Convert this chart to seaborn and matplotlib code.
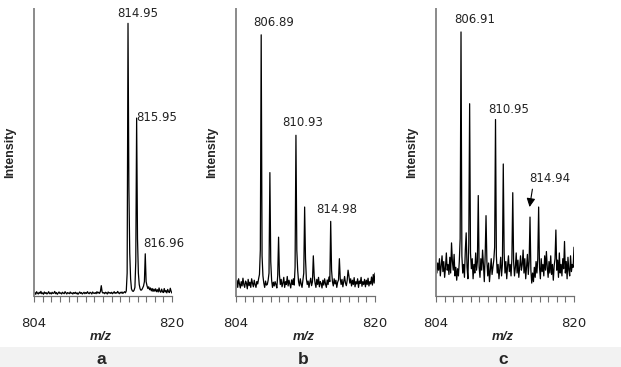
import numpy as np
import pandas as pd
import matplotlib
matplotlib.use("Agg")
import matplotlib.pyplot as plt
from matplotlib.patches import Rectangle
import seaborn as sns

# m/z sampling axis (804 to 820 in 0.1 steps)
mz = np.round(np.arange(804.0, 820.05, 0.1), 1)

# intensities (arbitrary units, 0-100)
int_a = [0.8, 1.2, 0.6, 1.5, 1.0, 0.7, 1.3, 0.9, 1.6, 0.8,
         1.1, 0.6, 1.4, 0.9, 1.2, 0.7, 1.0, 1.5, 0.8, 1.1,
         0.7, 1.3, 0.9, 1.0, 1.6, 0.8, 1.2, 0.6, 1.0, 1.4,
         0.9, 1.1, 0.7, 1.3, 1.0, 0.8, 1.5, 1.1, 0.7, 1.2,
         1.0, 0.8, 1.4, 0.9, 1.1, 0.7, 1.2, 0.9, 1.3, 0.8,
         1.1, 0.6, 1.0, 1.4, 0.9, 1.2, 0.7, 1.0, 1.3, 0.8,
         1.2, 0.9, 1.5, 1.0, 0.8, 1.3, 1.1, 0.7, 1.4, 1.0,
         0.9, 1.2, 0.8, 1.5, 1.0, 1.3, 0.9, 1.6, 3.6, 1.4,
         1.0, 1.2, 0.8, 1.3, 1.1, 0.7, 1.4, 1.0, 1.2, 0.9,
         1.3, 0.8, 1.1, 1.5, 0.9, 1.2, 1.0, 1.6, 1.1, 0.8,
         1.3, 1.0, 1.4, 0.9, 1.2, 1.5, 1.1, 1.8, 8.0, 95.0,
         38.0, 15.0, 6.0, 2.5, 1.8, 1.6, 2.0, 3.0, 12.0, 62.0,
         20.0, 8.0, 4.0, 2.5, 2.0, 2.2, 2.8, 3.5, 5.0, 14.7,
         5.0, 3.6, 2.6, 3.2, 2.2, 2.8, 1.8, 2.6, 1.6, 2.4,
         1.7, 2.5, 1.5, 2.2, 1.4, 2.8, 1.6, 1.3, 2.4, 1.5,
         1.2, 2.6, 1.4, 1.9, 1.1, 2.3, 1.5, 1.2, 2.7, 1.6,
         1.0]

int_b = [4.0, 5.5, 3.0, 6.0, 4.2, 2.8, 5.0, 3.5, 6.2, 4.0,
         3.0, 5.2, 4.5, 2.5, 5.8, 3.6, 4.8, 3.0, 6.0, 4.4,
         3.2, 5.5, 4.0, 3.0, 5.0, 4.2, 6.0, 7.5, 16.0, 91.0,
         14.0, 7.0, 4.5, 3.0, 5.2, 3.8, 4.0, 5.5, 8.0, 43.0,
         12.0, 5.5, 3.0, 4.8, 3.5, 5.0, 4.0, 2.8, 7.0, 20.5,
         7.5, 4.0, 5.8, 3.2, 4.5, 6.5, 3.0, 5.0, 4.0, 6.8,
         3.5, 5.5, 4.2, 2.8, 5.6, 4.0, 6.0, 3.8, 10.0, 56.0,
         16.0, 9.0, 5.0, 3.5, 6.0, 4.2, 3.0, 5.5, 8.0, 31.0,
         13.0, 6.0, 4.0, 5.2, 3.0, 4.8, 6.2, 3.6, 5.0, 14.0,
         7.0, 4.5, 3.0, 5.8, 4.0, 6.5, 3.2, 5.0, 4.4, 2.8,
         5.5, 3.8, 6.0, 4.2, 3.0, 5.6, 4.0, 6.6, 5.0, 26.0,
         9.0, 5.0, 3.5, 6.0, 4.2, 5.5, 3.0, 4.8, 5.6, 13.0,
         6.0, 4.0, 5.8, 3.2, 5.0, 6.8, 4.5, 3.6, 5.5, 9.0,
         7.0, 4.5, 6.0, 3.5, 5.5, 4.0, 6.4, 3.2, 5.0, 4.2,
         6.0, 3.0, 5.2, 4.4, 6.5, 3.4, 5.0, 4.0, 5.8, 3.2,
         5.5, 4.0, 6.2, 3.5, 5.0, 4.2, 6.6, 3.8, 7.5, 4.5,
         8.0]

int_c = [12.0, 8.0, 11.5, 9.0, 13.0, 7.0, 10.5, 14.0, 8.5, 12.0,
         6.5, 10.0, 15.0, 9.0, 11.0, 7.5, 13.5, 8.0, 18.5, 12.0,
         9.0, 14.5, 7.0, 10.0, 5.5, 9.5, 7.0, 12.0, 20.0, 92.0,
         14.0, 8.0, 11.0, 6.5, 16.0, 22.0, 10.0, 6.0, 18.0, 67.0,
         15.0, 9.5, 13.0, 6.0, 11.0, 8.0, 15.0, 9.0, 12.0, 35.0,
         10.0, 6.5, 13.0, 9.0, 16.0, 11.0, 5.0, 14.0, 28.0, 12.0,
         7.0, 11.5, 5.0, 9.0, 13.0, 7.5, 10.0, 12.5, 17.0, 61.5,
         14.0, 8.0, 11.0, 6.0, 9.5, 13.5, 7.0, 11.0, 46.0, 15.0,
         8.0, 12.0, 6.0, 10.5, 14.0, 8.5, 11.0, 7.0, 13.0, 36.0,
         12.0, 7.0, 10.0, 15.0, 8.0, 12.5, 6.5, 10.0, 14.0, 9.0,
         11.0, 16.0, 8.0, 13.0, 6.0, 10.0, 14.5, 7.5, 12.0, 27.5,
         9.0, 4.5, 8.0, 5.0, 10.0, 6.5, 12.0, 8.0, 13.0, 31.0,
         10.0, 6.0, 13.0, 8.5, 11.0, 7.0, 14.0, 9.0, 15.5, 10.0,
         6.5, 12.0, 8.0, 14.0, 7.5, 11.0, 5.5, 10.5, 13.0, 23.0,
         9.0, 12.5, 6.5, 15.0, 8.0, 11.0, 7.0, 13.0, 9.5, 19.0,
         8.0, 12.0, 6.0, 13.5, 9.0, 7.0, 14.0, 8.5, 11.0, 10.0,
         17.0]

panel_letters = ["a", "b", "c"]

# labelled peaks: (label text, m/z on grid, intensity)
labels_a = [("814.95", 814.9, 95.0), ("815.95", 815.9, 62.0), ("816.96", 816.9, 14.7)]
labels_b = [("806.89", 806.9, 91.0), ("810.93", 810.9, 56.0), ("814.98", 814.9, 26.0)]
labels_c = [("806.91", 806.9, 92.0), ("810.95", 810.9, 61.5)]
arrow_c = ("814.94", 814.85, 31.0)

# label offsets in pixels from the peak top
offsets_a = [(10, 10), (20, 1), (19, 10)]
offsets_b = [(12, 12), (7, 13), (6, 12)]
offsets_c = [(14, 12), (13, 10)]

sns.set_style("white")
W, H = 621, 367
fig = plt.figure(figsize=(W / 100, H / 100), dpi=100)

# light grey band under the panel letters
fig.patches.append(Rectangle((0, 0), 1, 20 / H, transform=fig.transFigure,
                             facecolor="#f2f2f2", edgecolor="none", zorder=0))

lefts = [34, 236, 436]
rights = [172, 375, 574]
top_px, bot_px = 9, 296
spectra = [int_a, int_b, int_c]
all_labels = [labels_a, labels_b, labels_c]
all_offsets = [offsets_a, offsets_b, offsets_c]

for k in range(3):
    ax = fig.add_axes([lefts[k] / W, (H - bot_px) / H,
                       (rights[k] - lefts[k]) / W, (bot_px - top_px) / H])
    df = pd.DataFrame({"mz": mz, "intensity": spectra[k]})
    sns.lineplot(data=df, x="mz", y="intensity", ax=ax, color="black",
                 linewidth=0.9, estimator=None, sort=False)
    ax.set_xlim(804, 820)
    ax.set_ylim(0, 100)
    ax.set_xlabel("")
    ax.set_ylabel("")
    ax.set_yticks([])
    ax.set_xticks([804, 820])
    ax.set_xticks(range(804, 821), minor=True)
    ax.tick_params(axis="x", which="both", direction="out", length=4, width=0.8,
                   color="#707070", bottom=True, labelsize=9.5, pad=11,
                   labelcolor="#222222")
    for side in ["top", "right"]:
        ax.spines[side].set_visible(False)
    ax.spines["left"].set_color("#8a8a8a")
    ax.spines["left"].set_linewidth(1.4)
    ax.spines["bottom"].set_color("#707070")
    ax.spines["bottom"].set_linewidth(0.9)
    ax.patch.set_alpha(0)

    for (txt, x, y), (dx, dy) in zip(all_labels[k], all_offsets[k]):
        ax.annotate(txt, xy=(x, y), xytext=(dx, dy), textcoords="offset pixels",
                    ha="center", va="center", fontsize=8.5, color="#222222")

    if k == 2:
        txt, x, y = arrow_c
        ax.annotate(txt, xy=(x, y), xytext=(20, 29), textcoords="offset pixels",
                    ha="center", va="center", fontsize=8.5, color="#222222",
                    arrowprops=dict(arrowstyle="-|>,head_length=0.6,head_width=0.3",
                                    color="black", lw=0.8, shrinkA=1, shrinkB=0,
                                    relpos=(0.1, 0.0)))

    # axis titles and panel letter
    cx = (lefts[k] + rights[k]) / 2 - 2
    fig.text((lefts[k] - 24) / W, (H - 152) / H, "Intensity", rotation=90,
             ha="center", va="center", fontsize=9, fontweight="bold",
             family="Liberation Sans")
    fig.text(cx / W, (H - 337.5) / H, "m/z", ha="center", va="center",
             fontsize=9.5, fontweight="bold", fontstyle="italic",
             family="Liberation Sans")
    fig.text(cx / W, (H - 359) / H, panel_letters[k], ha="center", va="center",
             fontsize=12.5, fontweight="bold", family="Liberation Sans")

fig.savefig("out.png", dpi=100)
